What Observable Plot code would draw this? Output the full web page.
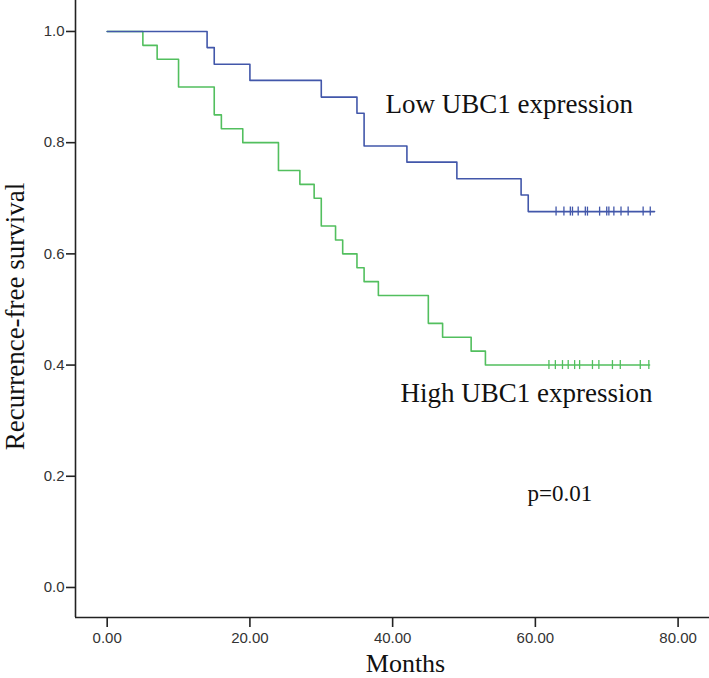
<!DOCTYPE html>
<html>
<head>
<meta charset="utf-8">
<script src="https://cdn.jsdelivr.net/npm/d3@7"></script>
<script src="https://cdn.jsdelivr.net/npm/@observablehq/plot@0.6"></script>
<style>
  html, body { margin: 0; padding: 0; background: #ffffff; }
  #chart svg { display: block; }
</style>
</head>
<body>
<div id="chart"></div>
<script>
// Low UBC1 expression (blue) — Kaplan–Meier step points
const lowTimes = [0, 14, 15, 20, 30, 35, 36, 42, 49, 58, 59, 76.7];
const lowSurv  = [1.0, 0.971, 0.941, 0.912, 0.882, 0.853, 0.794, 0.765, 0.735, 0.706, 0.676, 0.676];
const lowCensor = [62.9, 64.0, 64.9, 65.2, 66.0, 67.0, 67.3, 69.0, 70.0, 70.3, 71.0, 72.0, 73.0, 75.1, 76.1];

// High UBC1 expression (green)
const highTimes = [0, 5, 7, 10, 15, 16, 19, 24, 27, 29, 30, 32, 33, 35, 36, 38, 45, 47, 51, 53, 76];
const highSurv  = [1.0, 0.975, 0.95, 0.90, 0.85, 0.825, 0.80, 0.75, 0.725, 0.70, 0.65, 0.625, 0.60, 0.575, 0.55, 0.525, 0.475, 0.45, 0.425, 0.40, 0.40];
const highCensor = [61.9, 62.8, 63.8, 64.6, 65.5, 66.2, 68.0, 68.9, 70.8, 71.9, 74.7, 75.9];

const xTicks = [0, 20, 40, 60, 80];
const yTicks = [0, 0.2, 0.4, 0.6, 0.8, 1.0];

const labels = [
  {text: "Low UBC1 expression", x: 39.0, y: 0.853, size: 27},
  {text: "High UBC1 expression", x: 41.1, y: 0.333, size: 27},
  {text: "p=0.01", x: 58.9, y: 0.156, size: 23}
];

const blue = "#4257aa";
const green = "#52bf5e";

const low = lowTimes.map((t, i) => ({t, s: lowSurv[i]}));
const high = highTimes.map((t, i) => ({t, s: highSurv[i]}));
const lowC = lowCensor.map(t => ({t, s: lowSurv[lowSurv.length - 1]}));
const highC = highCensor.map(t => ({t, s: highSurv[highSurv.length - 1]}));

const xDomain = [-4.44, 84.4];
const yDomain = [-0.054, 1.0557];

const chart = Plot.plot({
  width: 709,
  height: 678,
  marginTop: 0,
  marginRight: 0,
  marginBottom: 61,
  marginLeft: 75,
  style: {background: "#ffffff", overflow: "visible"},
  x: {domain: xDomain},
  y: {domain: yDomain},
  marks: [
    Plot.line(high, {x: "t", y: "s", curve: "step-after", stroke: green, strokeWidth: 1.6}),
    Plot.line(low, {x: "t", y: "s", curve: "step-after", stroke: blue, strokeWidth: 1.6}),
    Plot.ruleX(highC, {x: "t", y1: "s", y2: "s", insetTop: -4.5, insetBottom: -4.5, stroke: green, strokeWidth: 1.3}),
    Plot.ruleX(lowC, {x: "t", y1: "s", y2: "s", insetTop: -4.5, insetBottom: -4.5, stroke: blue, strokeWidth: 1.3}),
    Plot.ruleX([xDomain[0]], {stroke: "#222", strokeWidth: 1.6}),
    Plot.ruleY([yDomain[0]], {stroke: "#222", strokeWidth: 1.6}),
    Plot.axisY({ticks: yTicks, tickFormat: d3.format(".1f"), tickSize: 9, tickPadding: 2,
      fontSize: 15, fontFamily: "Liberation Sans, Arial, sans-serif", fill: "#333",
      stroke: "#222", strokeWidth: 1.6, label: null}),
    Plot.axisX({ticks: xTicks, tickFormat: d3.format(".2f"), tickSize: 10, tickPadding: 5,
      fontSize: 15, fontFamily: "Liberation Sans, Arial, sans-serif", fill: "#333",
      stroke: "#222", strokeWidth: 1.6, label: null}),
    Plot.text(labels, {x: "x", y: "y", text: "text", fontSize: "size",
      fontFamily: "Liberation Serif, Times New Roman, serif", fill: "#111",
      textAnchor: "start", lineAnchor: "bottom"}),
    Plot.text(["Months"], {frameAnchor: "bottom", dx: 13, dy: 54, lineAnchor: "bottom",
      fontSize: 26, fontFamily: "Liberation Serif, Times New Roman, serif", fill: "#111"}),
    Plot.text(["Recurrence-free survival"], {frameAnchor: "left", textAnchor: "middle", dx: -52, dy: 7.5, rotate: -90,
      lineAnchor: "bottom", fontSize: 27, fontFamily: "Liberation Serif, Times New Roman, serif", fill: "#111"})
  ]
});
document.getElementById("chart").appendChild(chart);
</script>
</body>
</html>
